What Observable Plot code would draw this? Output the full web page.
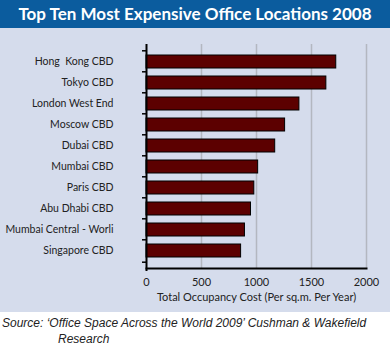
<!DOCTYPE html>
<html><head><meta charset="utf-8">
<script src="https://cdn.jsdelivr.net/npm/d3@7"></script>
<script src="https://cdn.jsdelivr.net/npm/@observablehq/plot@0.6"></script>
<style>
body{margin:0;background:#fff;}
#wrap{width:390px;}
#title{height:28px;background:#0b5c9e;color:#fff;font:bold 17px Lato,"Open Sans",sans-serif;line-height:28px;text-align:center;white-space:nowrap;}
#panel{background:#d5dcec;height:284px;}
#src{font:italic 12px "Liberation Sans",Arial,sans-serif;color:#222;padding:3px 0 0 2px;line-height:16px;}
</style></head>
<body><div id="wrap">
<div id="title">Top Ten Most Expensive Office Locations 2008</div>
<div id="panel"></div>
<div id="src">Source: ‘Office Space Across the World 2009’ Cushman &amp; Wakefield<br><span style="padding-left:56px">Research</span></div>
</div>
<script>
const cities = ["Hong  Kong CBD","Tokyo CBD","London West End","Moscow CBD","Dubai CBD","Mumbai CBD","Paris CBD","Abu Dhabi CBD","Mumbai Central - Worli","Singapore CBD"];
const costs = [1725,1635,1390,1260,1170,1015,980,950,895,860];
const xTicks = [0,500,1000,1500,2000];
const data = cities.map((c,i)=>({city:c,cost:costs[i]}));
const step = (284-16-44)/cities.length;
const chart = Plot.plot({
  width:390, height:284,
  marginTop:16, marginBottom:44, marginLeft:146, marginRight:24,
  style:{background:"transparent",fontFamily:"Lato, sans-serif",fontSize:"11px",color:"#222"},
  x:{domain:[0,2000]},
  y:{domain:cities, padding:0.4, label:null},
  marks:[
    Plot.ruleX(xTicks.slice(1),{stroke:"#b3b7c0",strokeWidth:1.5}),
    Plot.barX(data,{x:"cost",y:"city",fill:"#5c0000",stroke:"#000",strokeWidth:1}),
    Plot.axisY({tickSize:0,tickPadding:33,fontSize:10.5,label:null}),
    Plot.axisY({tickSize:4,text:null,dy:-step/2,stroke:"#000",strokeWidth:1.5,label:null}),
    Plot.axisY([cities[cities.length-1]],{tickSize:4,text:null,dy:step/2,stroke:"#000",strokeWidth:1.5,label:null}),
    Plot.axisX({ticks:xTicks,tickFormat:d3.format("d"),tickSize:0,tickPadding:10,fontSize:11,label:"Total Occupancy Cost (Per sq.m. Per Year)",labelAnchor:"center",labelArrow:"none",labelOffset:32}),
    Plot.frame({anchor:"bottom",stroke:"#000",strokeWidth:2}),
    Plot.ruleX([0],{stroke:"#000",strokeWidth:2,insetBottom:-3}),
  ]
});
document.getElementById("panel").appendChild(chart);
</script>
</body></html>
